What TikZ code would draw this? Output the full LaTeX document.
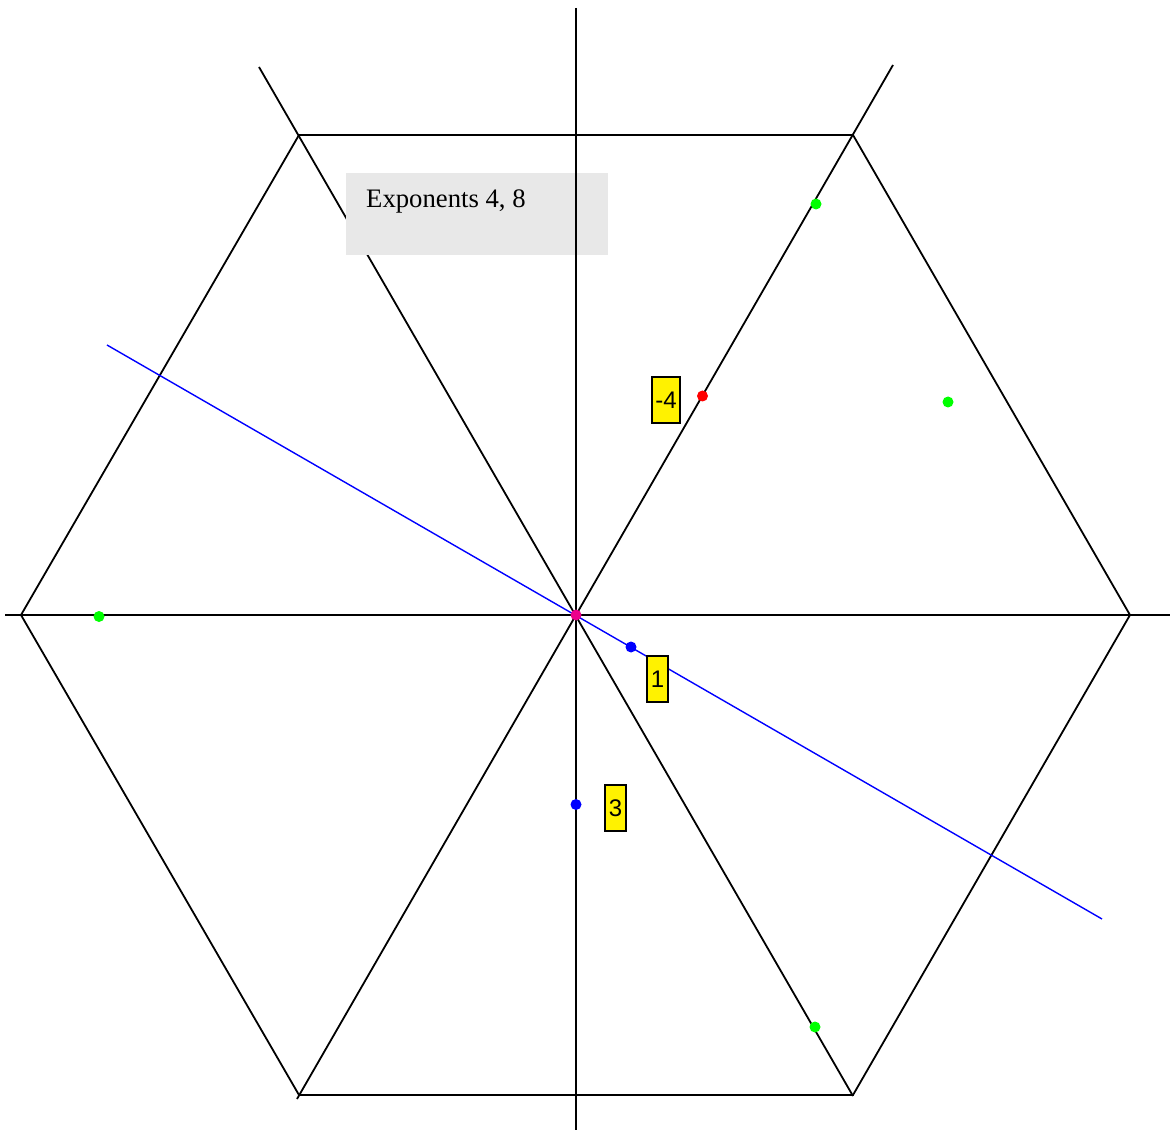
\documentclass[tikz,border=0pt]{standalone}
\usepackage{fontspec}
\setmainfont{Liberation Serif}
\newfontfamily\labfont{Liberation Sans}
\begin{document}
\begin{tikzpicture}[x=1pt,y=-1pt,
  blk/.style={black, line width=1.8pt},
  bluel/.style={blue, line width=1.4pt},
  dot/.style={circle, fill=#1, inner sep=0pt, minimum size=11pt},
  tag/.style={draw=black, line width=1.9pt, fill=yellow, inner xsep=3.5pt, inner ysep=0pt,
    minimum height=46pt, font=\labfont\fontsize{24}{28}\selectfont},
  infobox/.style={fill=black!9, inner sep=0pt, minimum width=262pt, minimum height=82pt}]
\useasboundingbox (0,0) rectangle (1171,1131);
% named points
\coordinate (O) at (576,615);
\coordinate (vR) at (1130,615);
\coordinate (vL) at (21,615);
\coordinate (vTR) at (853,135);
\coordinate (vTL) at (299,135);
\coordinate (vBR) at (853,1095);
\coordinate (vBL) at (299,1095);
\coordinate (d1a) at (259,67);
\coordinate (d1b) at (853,1096);
\coordinate (d2a) at (893,65);
\coordinate (d2b) at (297,1099);
\coordinate (hA) at (5,615);
\coordinate (hB) at (1170,615);
\coordinate (vA) at (576,8);
\coordinate (vB) at (576,1130);
\coordinate (bA) at (107,345);
\coordinate (bB) at (1102,919);
% hexagon and diagonals
\draw[blk] (vR) -- (vTR) -- (vTL) -- (vL) -- (vBL) -- (vBR) -- cycle;
\draw[blk] (d1a) -- (d1b);
\draw[blk] (d2a) -- (d2b);
% info box
\node[infobox] (info) at (477,214) {};
\node[anchor=base west, font=\fontsize{26.7}{30}\selectfont, inner sep=0pt] (infotext) at (366,208) {Exponents 4, 8};
% axes
\draw[blk] (hA) -- (hB);
\draw[blk] (vA) -- (vB);
% blue line
\draw[bluel] (bA) -- (bB);
% dots
\node[dot=red] (r1) at (702.5,396) {};
\node[dot=green] (g1) at (816,204) {};
\node[dot=green] (g2) at (948,402) {};
\node[dot=green] (g3) at (815,1027) {};
\node[dot=green] (g4) at (99,616.5) {};
\node[dot=blue] (b1) at (631,647) {};
\node[dot=blue] (b2) at (576,804.5) {};
\node[dot=magenta] (m1) at (O) {};
% labels
\node[tag] (l1) at (666,400) {-4};
\node[tag] (l2) at (657.5,679) {1};
\node[tag] (l3) at (615.5,808) {3};
\end{tikzpicture}
\end{document}
